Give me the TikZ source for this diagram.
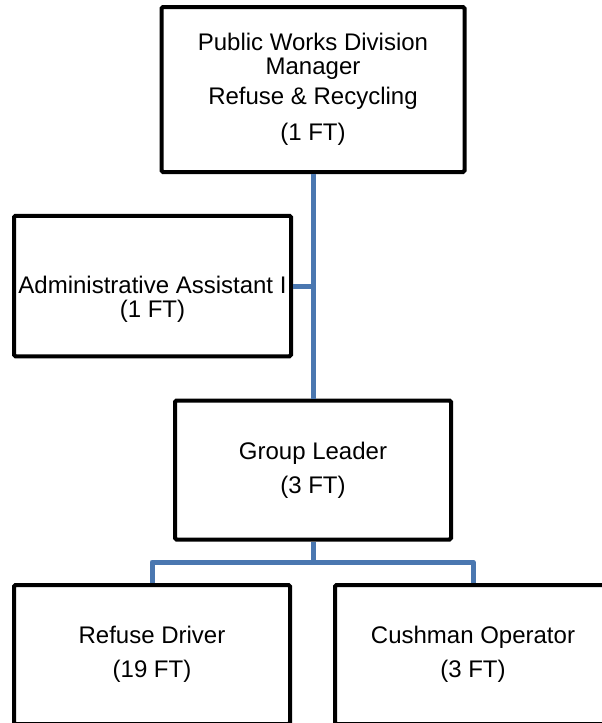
\documentclass[tikz,border=0pt]{standalone}
\usepackage{fontspec}
\setmainfont{Liberation Sans}
\usepackage{xcolor}
\usepackage{tikz}
\usetikzlibrary{positioning,calc}
\definecolor{LinkBlue}{RGB}{74,119,176}
\tikzset{
    posbox/.style={rectangle, draw=black, line width=4pt, rounded corners=1.5pt, fill=white, inner sep=2pt, align=center, font=\fontsize{24}{24}\selectfont, minimum width=276pt, minimum height=139pt}
}

\begin{document}
\begin{tikzpicture}[
        x=1pt, y=-1pt,
        % Style for the connectors
        link/.style={
            draw=LinkBlue,
            line width=5pt,
            line join=round
        },
        % Style for text without its own box
        plain/.style={
            align=center,
            font=\fontsize{24}{24}\selectfont,
            inner sep=0pt
        }
    ]

        % --- 0. FRAME ---
        \clip (0,0) rectangle (602,723);

        % --- 1. BOXES ---
        % Top (manager)
        \node[posbox, minimum width=303pt, minimum height=165pt] (mgr) at (313, 89.5)
            {Public Works Division\\Manager\\[6pt]Refuse \& Recycling\\[12pt](1 FT)};

        % Staff box on the left
        \node[posbox, minimum width=277pt, minimum height=140.5pt] (admin) at (152.5, 286) {};
        \node[plain] (admin-text) at ([yshift=-13pt]admin.center)
            {Administrative Assistant I\\(1 FT)};

        % Middle
        \node[posbox] (lead) at (313, 470) {Group Leader\\[10pt](3 FT)};

        % Bottom row
        \node[posbox] (drv) at (152, 654.5) {Refuse Driver\\[10pt](19 FT)};
        \node[posbox] (cush) at (473, 654.5) {Cushman Operator\\[10pt](3 FT)};

        % --- 2. CONNECTORS ---
        \draw[link] (mgr.south) -- (lead.north);
        \draw[link] (admin.east) -- (admin.east -| mgr.south);

        \coordinate (split) at ([yshift=-20.5pt]lead.south);
        \draw[link] (lead.south) -- (split);
        \draw[link] (drv.north) |- (split) -| (cush.north);

    \end{tikzpicture}
\end{document}
